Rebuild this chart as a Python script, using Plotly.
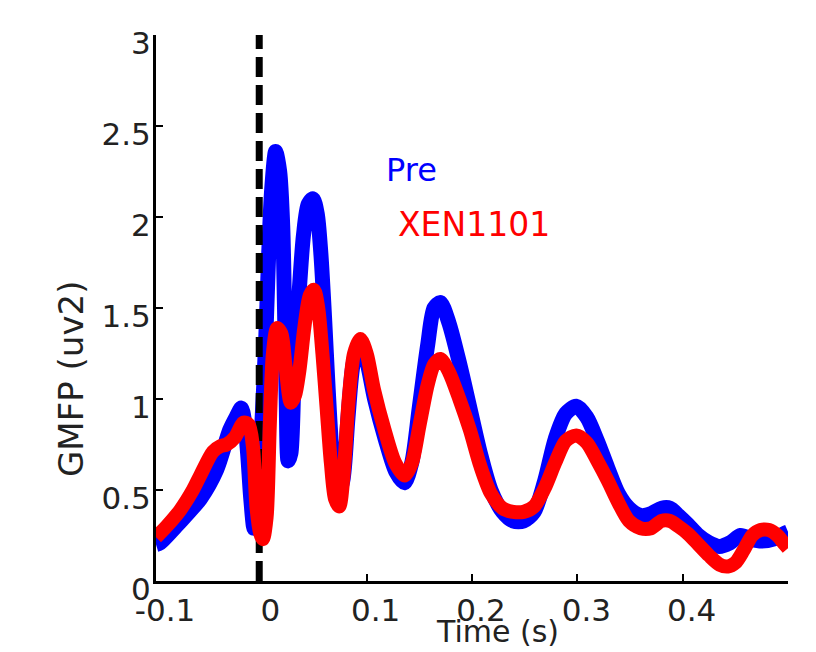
import plotly.graph_objects as go

# Time (s) and GMFP (uv2) values
pre_t = [-0.100, -0.096, -0.081, -0.070, -0.058, -0.0425, -0.030, -0.024, -0.019, -0.016, -0.013,
         -0.010, -0.007, -0.0035, 0.0004, 0.004, 0.007, 0.0098, 0.0136, 0.0174, 0.0203,
         0.022, 0.0236, 0.0255, 0.028, 0.031, 0.0355, 0.040, 0.0445, 0.049, 0.053, 0.0565,
         0.060, 0.0635, 0.0672, 0.0722, 0.0773, 0.0823, 0.0874, 0.0934, 0.0995, 0.1075,
         0.1176, 0.1277, 0.1358, 0.1428, 0.1499, 0.158, 0.164, 0.170, 0.178, 0.188, 0.198,
         0.208, 0.218, 0.229, 0.239, 0.249, 0.259, 0.269, 0.279, 0.289, 0.299, 0.309,
         0.319, 0.329, 0.339, 0.349, 0.360, 0.370, 0.380, 0.388, 0.396, 0.405, 0.415,
         0.425, 0.435, 0.445, 0.455, 0.465, 0.475, 0.486, 0.496, 0.500]
pre_gmfp = [0.20, 0.21, 0.30, 0.37, 0.45, 0.61, 0.83, 0.90, 0.95, 0.88, 0.70,
            0.45, 0.29, 0.45, 0.85, 1.30, 1.80, 2.15, 2.36, 2.25, 1.95,
            1.50, 1.00, 0.66, 0.70, 1.10, 1.55, 1.90, 2.07, 2.10, 2.02, 1.80,
            1.45, 1.05, 0.70, 0.47, 0.55, 0.90, 1.20, 1.30, 1.22, 1.00,
            0.78, 0.60, 0.54, 0.65, 0.95, 1.30, 1.50, 1.53, 1.42, 1.20, 0.95,
            0.70, 0.50, 0.38, 0.33, 0.33, 0.38, 0.55, 0.78, 0.92, 0.96, 0.90,
            0.77, 0.62, 0.48, 0.40, 0.36, 0.37, 0.40, 0.40, 0.36, 0.31, 0.25,
            0.21, 0.19, 0.21, 0.25, 0.23, 0.22, 0.23, 0.26, 0.27]

xen_t = [-0.100, -0.090, -0.077, -0.065, -0.058, -0.046, -0.039, -0.033, -0.025, -0.017,
         -0.012, -0.008, -0.0045, -0.001, 0.0015, 0.005, 0.008, 0.011, 0.015, 0.019, 0.023,
         0.028, 0.032, 0.036, 0.041, 0.046, 0.050, 0.054, 0.058, 0.062, 0.066, 0.070,
         0.074, 0.078, 0.083, 0.088, 0.094, 0.100, 0.107, 0.117, 0.127, 0.136, 0.143,
         0.150, 0.158, 0.164, 0.170, 0.178, 0.188, 0.198, 0.208, 0.218, 0.229, 0.239,
         0.249, 0.259, 0.269, 0.279, 0.289, 0.299, 0.309, 0.319, 0.329, 0.339, 0.349,
         0.360, 0.370, 0.380, 0.388, 0.396, 0.405, 0.415, 0.425, 0.435, 0.443, 0.450,
         0.458, 0.466, 0.474, 0.482, 0.490, 0.497, 0.500]
xen_gmfp = [0.24, 0.30, 0.39, 0.50, 0.58, 0.71, 0.74, 0.75, 0.79, 0.87,
            0.86, 0.74, 0.40, 0.26, 0.23, 0.35, 0.85, 1.25, 1.39, 1.36, 1.18,
            0.98, 1.02, 1.15, 1.40, 1.57, 1.60, 1.50, 1.25, 0.95, 0.65, 0.45,
            0.41, 0.58, 1.00, 1.25, 1.33, 1.25, 1.05, 0.83, 0.65, 0.58, 0.65,
            0.85, 1.08, 1.19, 1.22, 1.15, 1.00, 0.83, 0.63, 0.48, 0.40, 0.38,
            0.38, 0.41, 0.51, 0.65, 0.77, 0.80, 0.76, 0.66, 0.55, 0.43, 0.33,
            0.29, 0.29, 0.33, 0.33, 0.30, 0.26, 0.20, 0.14, 0.09, 0.08, 0.10,
            0.17, 0.25, 0.28, 0.28, 0.25, 0.20, 0.18]

onset_t = [-0.002, -0.002]
onset_y = [0, 3]

x_ticks = [-0.1, 0, 0.1, 0.2, 0.3, 0.4]
x_ticklabels = ["-0.1", "0", "0.1", "0.2", "0.3", "0.4"]
y_ticks = [0, 0.5, 1, 1.5, 2, 2.5, 3]
y_ticklabels = ["0", "0.5", "1", "1.5", "2", "2.5", "3"]

FONT = "DejaVu Sans"
TXT = "#222222"

fig = go.Figure()
fig.add_trace(go.Scatter(x=pre_t, y=pre_gmfp, mode="lines", name="Pre",
                         line=dict(color="#0000FF", width=15, shape="spline", smoothing=0.8)))
fig.add_trace(go.Scatter(x=onset_t, y=onset_y, mode="lines",
                         line=dict(color="black", width=7, dash="20px,8px"),
                         showlegend=False, hoverinfo="skip"))
fig.add_trace(go.Scatter(x=xen_t, y=xen_gmfp, mode="lines", name="XEN1101",
                         line=dict(color="#FF0000", width=14, shape="spline", smoothing=0.8)))

fig.update_layout(
    width=808, height=644,
    margin=dict(l=148, r=28, t=27, b=71),
    paper_bgcolor="white", plot_bgcolor="white",
    showlegend=False,
    font=dict(family=FONT, size=31, color=TXT),
    xaxis=dict(range=[-0.1, 0.5], tickvals=x_ticks, ticktext=x_ticklabels,
               showgrid=False, zeroline=False, showline=True, linecolor="black", linewidth=3,
               ticks="inside", ticklen=7, tickwidth=2, tickcolor="black",
               ticklabelshift=9, tickfont=dict(family=FONT, size=31, color=TXT)),
    yaxis=dict(range=[0, 3], tickvals=y_ticks, ticktext=y_ticklabels,
               showgrid=False, zeroline=False, showline=True, linecolor="black", linewidth=3,
               ticks="inside", ticklen=7, tickwidth=2, tickcolor="black",
               ticklabelshift=8, ticklabelstandoff=-4,
               tickfont=dict(family=FONT, size=31, color=TXT)),
    annotations=[
        dict(text="Time (s)", xref="paper", yref="paper", x=0.54, y=-0.128,
             xanchor="center", yanchor="bottom", showarrow=False,
             font=dict(family=FONT, size=30, color=TXT)),
        dict(text="GMFP (uv2)", xref="paper", yref="paper", x=-0.1345, y=0.37,
             xanchor="center", yanchor="middle", textangle=-90, showarrow=False,
             font=dict(family=FONT, size=34, color=TXT)),
        dict(text="Pre", xref="x", yref="y", x=0.116, y=2.26,
             xanchor="left", yanchor="middle", showarrow=False,
             font=dict(family=FONT, size=32, color="#0000FF")),
        dict(text="XEN1101", xref="x", yref="y", x=0.128, y=1.96,
             xanchor="left", yanchor="middle", showarrow=False,
             font=dict(family=FONT, size=33, color="#FF0000")),
    ],
)

fig.write_html("out.html")
